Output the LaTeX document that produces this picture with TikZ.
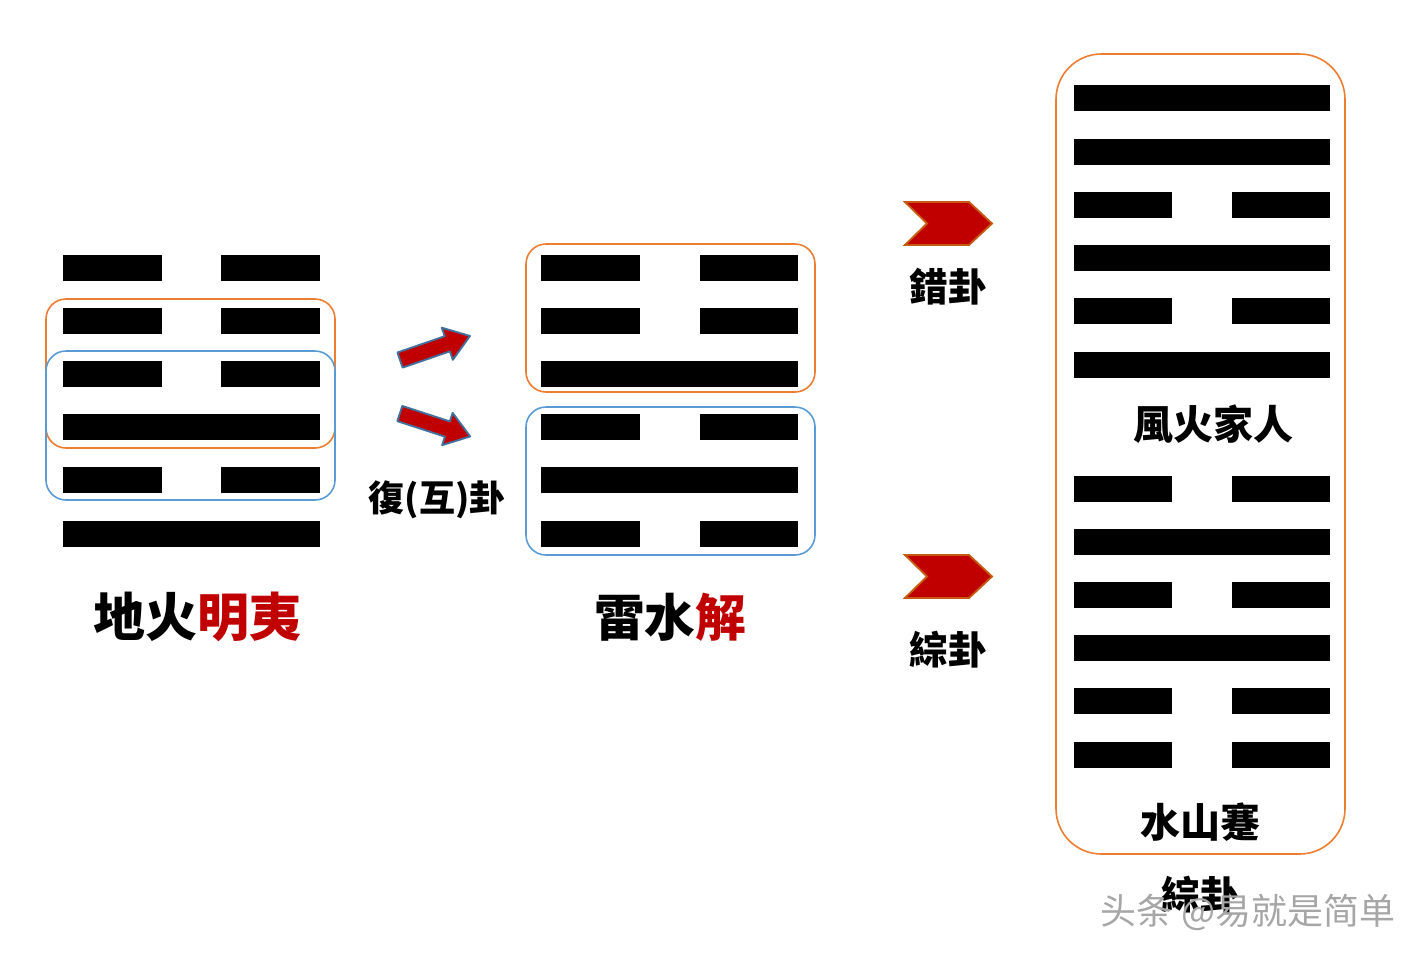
\documentclass[tikz,border=0pt]{standalone}
\usepackage{fontspec}
\usepackage{tikz}
\newfontfamily\guafont{Noto Sans CJK TC}
\newfontfamily\markfont{Noto Sans CJK SC}
\definecolor{guaRed}{RGB}{192,0,0}
\definecolor{boxOrange}{RGB}{237,125,49}
\definecolor{boxBlue}{RGB}{91,155,213}
\definecolor{arrowEdge}{RGB}{65,113,156}
\definecolor{chevEdge}{RGB}{197,90,17}
\usetikzlibrary{positioning}

\begin{document}
\begin{tikzpicture}[
    x=0.75pt, y=-0.75pt,
    bar/.style={fill=black},
    tribox/.style={rounded corners=15pt, line width=1.2pt},
    bigarrow/.style={fill=guaRed, draw=arrowEdge, line width=1.4pt, line join=round},
    chevron/.style={fill=guaRed, draw=chevEdge, line width=1.4pt},
    guaname/.style={font=\guafont\bfseries\fontsize{39}{39}\selectfont, inner sep=0pt},
    smalllabel/.style={font=\guafont\bfseries\fontsize{29}{29}\selectfont, inner sep=0pt}
]
    \useasboundingbox (0,0) rectangle (1424,960);

    % 地火明夷
    \foreach \y in {255,308,361,467} {
        \fill[bar] (63,\y) rectangle +(99,26);
        \fill[bar] (221,\y) rectangle +(99,26);
    }
    \foreach \y in {414,521}
        \fill[bar] (63,\y) rectangle +(257,26);
    \draw[tribox, boxOrange] (46,299) rectangle (335,448);
    \draw[tribox, boxBlue] (46,351) rectangle (335,500);
    \node[guaname] (mingyi) at (197,617) {地火\textcolor{guaRed}{明夷}};

    % 互卦 arrows
    \begin{scope}[shift={(435,348)}, rotate=19]
        \draw[bigarrow] (-37,-8) -- (13,-8) -- (13,-17) -- (37,0) -- (13,17) -- (13,8) -- (-37,8) -- cycle;
    \end{scope}
    \begin{scope}[shift={(435,425)}, rotate=-18]
        \draw[bigarrow] (-37,-8) -- (13,-8) -- (13,-17) -- (37,0) -- (13,17) -- (13,8) -- (-37,8) -- cycle;
    \end{scope}
    \node[font=\guafont\bfseries\fontsize{27}{27}\selectfont, inner sep=0pt] (hugua) at (437,500) {復(互)卦};

    % 雷水解
    \foreach \y in {255,308,414,521} {
        \fill[bar] (541,\y) rectangle +(99,26);
        \fill[bar] (700,\y) rectangle +(98,26);
    }
    \foreach \y in {361,467}
        \fill[bar] (541,\y) rectangle +(257,26);
    \draw[tribox, boxOrange] (526,244) rectangle (815,392);
    \draw[tribox, boxBlue] (526,407) rectangle (815,555);
    \node[guaname, font=\guafont\bfseries\fontsize{38}{38}\selectfont] (jie) at (670,617) {雷水\textcolor{guaRed}{解}};

    % 錯卦 / 綜卦
    \foreach \y in {202,555}
        \draw[chevron] (905,\y) -- (969,\y) -- (992,\y+21.5) -- (969,\y+43) -- (905,\y+43) -- (927,\y+21.5) -- cycle;
    \node[smalllabel] (cuogua) at (948,287) {錯卦};
    \node[smalllabel] (zonggua) at (948,650) {綜卦};

    % 風火家人 and 水山蹇
    \foreach \y in {85,139,245,352,529,635}
        \fill[bar] (1074,\y) rectangle +(256,26);
    \foreach \y in {192,298,476,582,688,742} {
        \fill[bar] (1074,\y) rectangle +(98,26);
        \fill[bar] (1232,\y) rectangle +(98,26);
    }
    \draw[boxOrange, line width=1.2pt, rounded corners=34pt] (1056,54) rectangle (1345,854);
    \node[smalllabel, font=\guafont\bfseries\fontsize{30}{30}\selectfont] (jiaren) at (1213,424) {風火家人};
    \node[smalllabel, font=\guafont\bfseries\fontsize{30}{30}\selectfont] (jian) at (1200,822) {水山蹇};

    \node[smalllabel] (zonggua2) at (1200,895) {綜卦};
    \node[font=\markfont\fontsize{27}{27}\selectfont, text=gray!70, inner sep=0pt] (mark) at (1248,912) {头条 @易就是简单};
\end{tikzpicture}
\end{document}
